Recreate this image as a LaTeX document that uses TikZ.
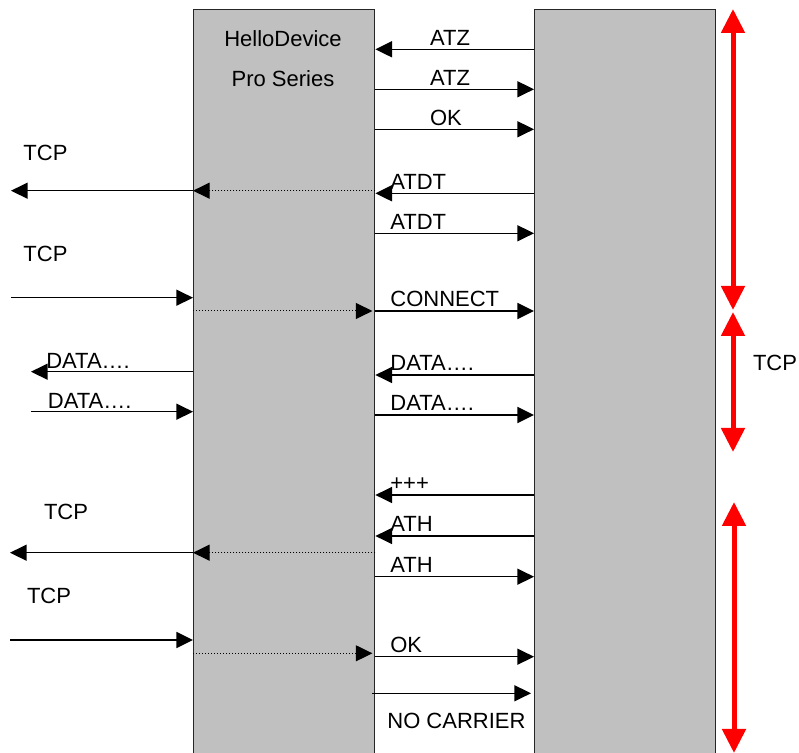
\documentclass[tikz,border=0pt]{standalone}
\usepackage{fontspec}
\setmainfont{Liberation Sans}
\usetikzlibrary{arrows.meta}
\definecolor{boxgray}{RGB}{192,192,192}

\begin{document}
\begin{tikzpicture}[x=0.5pt,y=-0.5pt,
	>={Triangle[length=8.3pt,width=8pt]},
	font=\fontsize{11}{13}\selectfont,
	unitbox/.style={draw=black!85, line width=0.7pt, fill=boxgray, minimum width=90.5pt, minimum height=376pt, anchor=north west, inner sep=0pt},
	msg/.style={->, line width=0.7pt},
	pass/.style={->, line width=0.5pt, densely dotted},
	lbl/.style={anchor=base west, inner sep=0pt, yshift=2.1pt},
	phase/.style={{Triangle[length=12pt,width=11.5pt]}-{Triangle[length=12pt,width=11.5pt]}, red, line width=2.5pt}]
	\useasboundingbox (0,0) rectangle (799,753);

	% the two units
	\node[unitbox] (dev) at (193,9) {};
	\node[unitbox] (host) at (534,9) {};
	\node (title1) at (283,39) {HelloDevice};
	\node (title2) at (283,79) {Pro Series};

	% free ends on the network side
	\coordinate (wan) at (11,0);
	\coordinate (wandata) at (31,0);

	% serial side
	\draw[msg] (host.west |- 0,49.3) -- (dev.east |- 0,49.3) node[lbl, pos=0.66] {ATZ};
	\draw[msg] (dev.east |- 0,89.3) -- (host.west |- 0,89.3) node[lbl, pos=0.34] {ATZ};
	\draw[msg] (dev.east |- 0,129.3) -- (host.west |- 0,129.3) node[lbl, pos=0.34] {OK};
	\draw[msg] (host.west |- 0,193.3) -- (dev.east |- 0,193.3) node[lbl, pos=0.91] {ATDT};
	\draw[msg] (dev.east |- 0,233.3) -- (host.west |- 0,233.3) node[lbl, pos=0.09] {ATDT};
	\draw[msg] (dev.east |- 0,311) -- (host.west |- 0,311) node[lbl, pos=0.09] {CONNECT};
	\draw[msg] (host.west |- 0,375) -- (dev.east |- 0,375) node[lbl, pos=0.91] {DATA….};
	\draw[msg] (dev.east |- 0,415) -- (host.west |- 0,415) node[lbl, pos=0.09] {DATA….};
	\draw[msg] (host.west |- 0,495) -- (dev.east |- 0,495) node[lbl, pos=0.91] {+++};
	\draw[msg] (host.west |- 0,536) -- (dev.east |- 0,536) node[lbl, pos=0.91] {ATH};
	\draw[msg] (dev.east |- 0,576.7) -- (host.west |- 0,576.7) node[lbl, pos=0.09] {ATH};
	\draw[msg] (dev.east |- 0,656.7) -- (host.west |- 0,656.7) node[lbl, pos=0.09] {OK};
	\draw[msg] ([xshift=-1.5pt]dev.east |- 0,693.3) -- ([xshift=-1.5pt]host.west |- 0,693.3);
	\node[anchor=base west, inner sep=0pt] (nocarrier) at (387,729) {NO CARRIER};

	% network side
	\node (tcp1) at (45.5,153) {TCP};
	\draw[pass] (dev.east |- 0,190.7) -- (dev.west |- 0,190.7);
	\draw[msg] (dev.west |- 0,190.7) -- (wan |- 0,190.7);
	\node (tcp2) at (45.5,254) {TCP};
	\draw[msg] (wan |- 0,297.7) -- (dev.west |- 0,297.7);
	\draw[pass] (dev.west |- 0,311) -- ([xshift=-1.5pt]dev.east |- 0,311);
	\draw[msg] (dev.west |- 0,371.7) -- (wandata |- 0,371.7) node[lbl, pos=0.91, yshift=-0.5pt] {DATA….};
	\draw[msg] (wandata |- 0,411.7) -- (dev.west |- 0,411.7) node[lbl, pos=0.1, yshift=-0.5pt] {DATA….};
	\node (tcp3) at (66,511.7) {TCP};
	\draw[pass] (dev.east |- 0,552.7) -- (dev.west |- 0,552.7);
	\draw[msg] (dev.west |- 0,552.7) -- ([xshift=-0.5pt]wan |- 0,552.7);
	\node (tcp4) at (49,596) {TCP};
	\draw[msg] ([xshift=-0.5pt]wan |- 0,640) -- (dev.west |- 0,640);
	\draw[pass] (dev.west |- 0,653.3) -- ([xshift=-1.5pt]dev.east |- 0,653.3);

	% connection phases
	\coordinate (ph1a) at (733,9);
	\coordinate (ph1b) at (733,310);
	\coordinate (ph2a) at (733,312);
	\coordinate (ph2b) at (733,452);
	\coordinate (ph3a) at (734,502);
	\coordinate (ph3b) at (734,753);
	\draw[phase] (ph1a) -- (ph1b);
	\draw[phase] (ph2a) -- (ph2b);
	\draw[phase] (ph3a) -- (ph3b);
	\node (tcp5) at (775,363) {TCP};
\end{tikzpicture}
\end{document}
